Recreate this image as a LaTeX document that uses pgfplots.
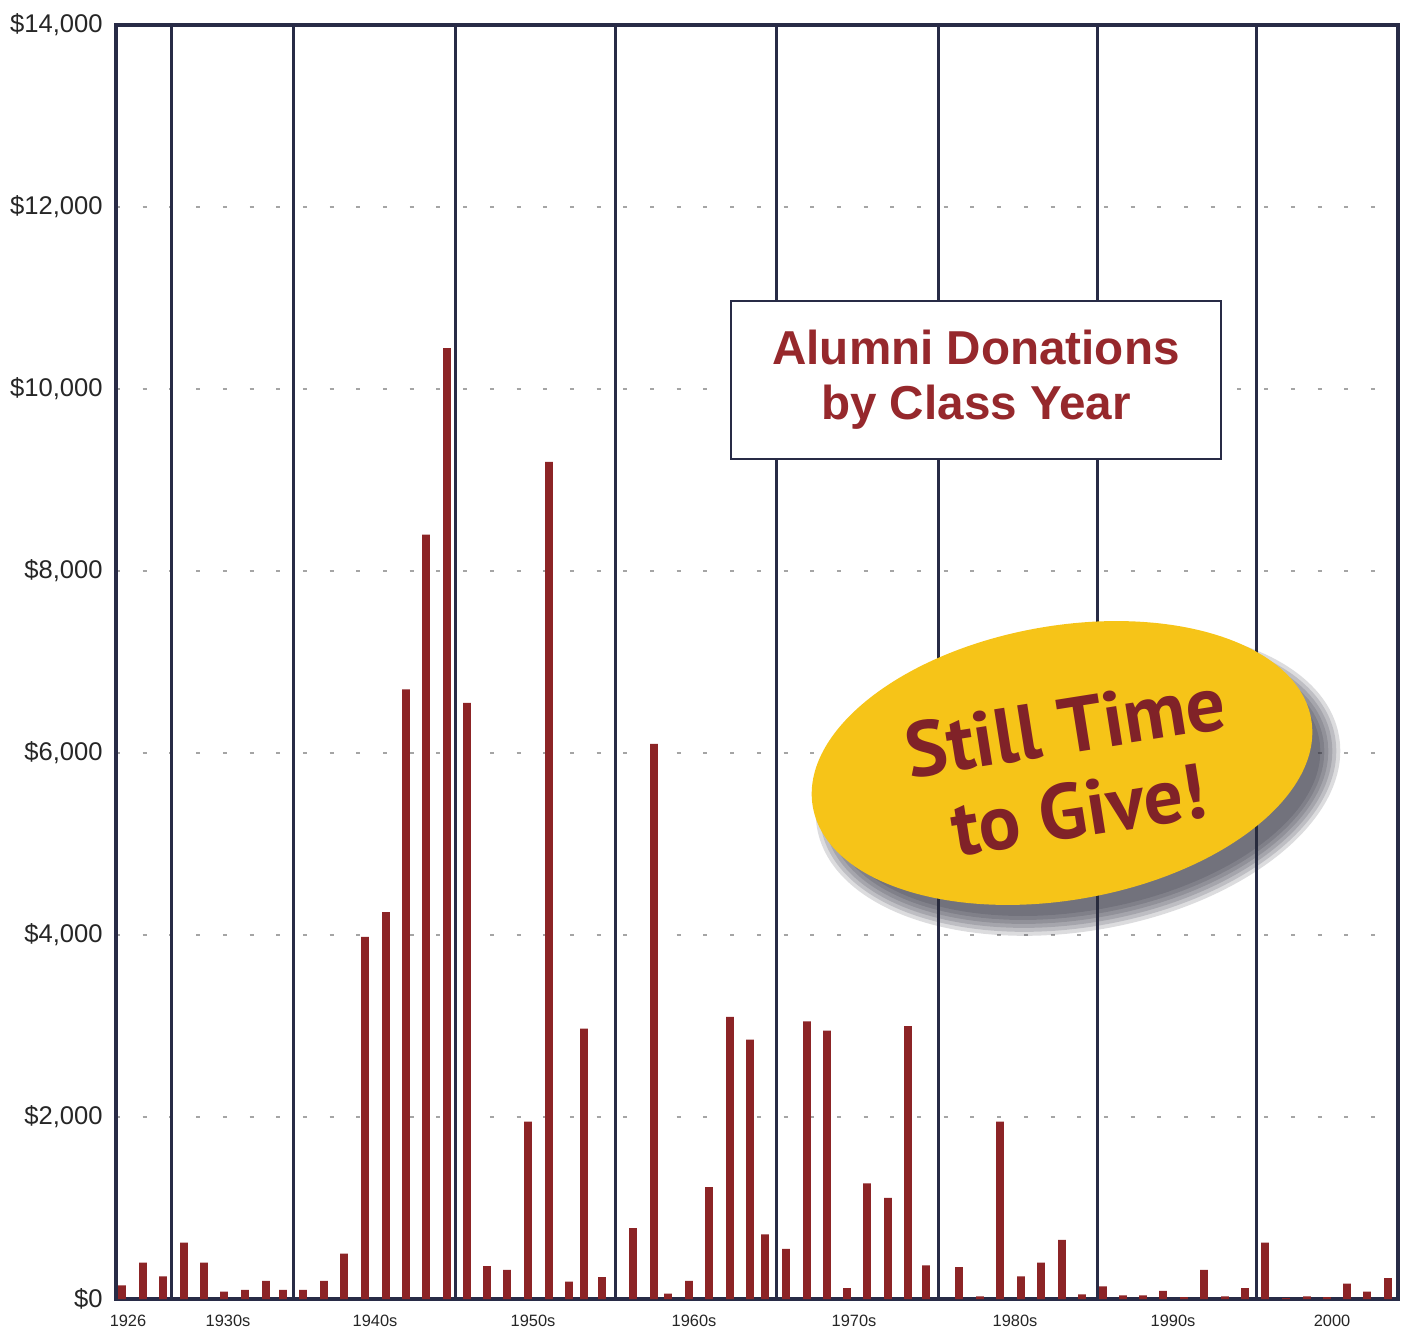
\documentclass[border=0pt]{standalone}
\usepackage{pgfplots}
\pgfplotsset{compat=1.18}
\usepackage{fontspec}
\setmainfont{Liberation Sans}
\newfontfamily\ptsans{PT Sans}
\definecolor{barred}{RGB}{140,36,38}
\definecolor{titlered}{RGB}{150,40,44}
\definecolor{badgetext}{RGB}{128,34,40}
\definecolor{navy}{RGB}{40,43,70}
\definecolor{badge}{RGB}{246,196,24}
\definecolor{gridgray}{RGB}{165,165,165}
\definecolor{shadowc}{RGB}{45,45,60}
\begin{document}
\begin{tikzpicture}
\useasboundingbox (0,0) rectangle (704pt,667pt);
\begin{axis}[
  at={(58pt,17.5pt)}, anchor=south west,
  scale only axis, width=641pt, height=637pt,
  xmin=116, xmax=1398, ymin=0, ymax=14000,
  axis line style={navy, line width=1.75pt},
  ytick={0,2000,...,14000},
  scaled y ticks=false,
  yticklabel={\$\pgfmathprintnumber{\tick}},
  xtick={128,228,375,533,694,854,1015,1173,1332},
  xticklabels={1926,1930s,1940s,1950s,1960s,1970s,1980s,1990s,2000},
  major tick length=0pt,
  ymajorgrids,
  major grid style={gridgray, line width=1pt, dash pattern=on 2pt off 11.35pt},
  extra x ticks={171,293,455,615,776,938,1097,1256},
  extra x tick labels={},
  extra x tick style={xmajorgrids=true, major grid style={navy, line width=1.5pt, solid}},
  yticklabel style={font=\fontsize{12.8}{14}\selectfont, anchor=east, inner sep=0pt, xshift=-6.5pt, text=black!85},
  xticklabel style={font=\fontsize{8.2}{10}\selectfont, anchor=base, inner sep=0pt, yshift=-13.5pt, text=black!85},
  /pgf/number format/1000 sep={,},
  /pgf/number format/assume math mode=true,
]
\addplot[ybar, bar width=3.9pt, bar shift=0pt, fill=barred, draw=none] coordinates {
(122,150) (143,400) (163,250)
(184,620) (204,400) (224,80) (245,100) (266,200) (283,100)
(303,100) (324,200) (344,500) (365,3980) (386,4250) (406,6700) (426,8400) (447,10450)
(467,6550) (487,360) (507,320) (528,1950) (549,9200) (569,190) (584,2970) (602,240)
(633,780) (654,6100) (668,60) (689,200) (709,1230) (730,3100) (750,2850) (765,710)
(786,550) (807,3050) (827,2950) (847,120) (867,1270) (888,1110) (908,3000) (926,370)
(959,350) (980,30) (1000,1950) (1021,250) (1041,400) (1062,650) (1082,50)
(1103,140) (1123,40) (1143,40) (1163,90) (1184,20) (1204,320) (1225,30) (1245,120)
(1265,620) (1286,10) (1307,30) (1327,20) (1347,170) (1367,80) (1388,230)
};
\end{axis}
\begin{scope}[x=0.5pt,y=0.5pt]
  \draw[navy, line width=1.1pt, fill=white] (731,875) rectangle (1221,1033);
  \node[anchor=base, text=titlered, font=\fontsize{23.8}{26}\selectfont\bfseries, inner sep=0pt] at (976,969) {Alumni Donations};
  \node[anchor=base, text=titlered, font=\fontsize{23.8}{26}\selectfont\bfseries, inner sep=0pt] at (976,914) {by Class Year};
  \foreach \r in {-8,-4,0,4,8,12} {
    \fill[shadowc, opacity=0.17, rotate around={10:(1078,552)}] (1078,552) ellipse [x radius=253+\r, y radius=137+\r];
  }
  \fill[badge, rotate around={10:(1062,571)}] (1062,571) ellipse [x radius=253, y radius=137];
  \node[rotate=9, align=center, text=badgetext, font=\ptsans\bfseries\fontsize{39}{42.3}\selectfont] at (1072,566) {Still Time\\to Give!};
\end{scope}
\end{tikzpicture}
\end{document}
